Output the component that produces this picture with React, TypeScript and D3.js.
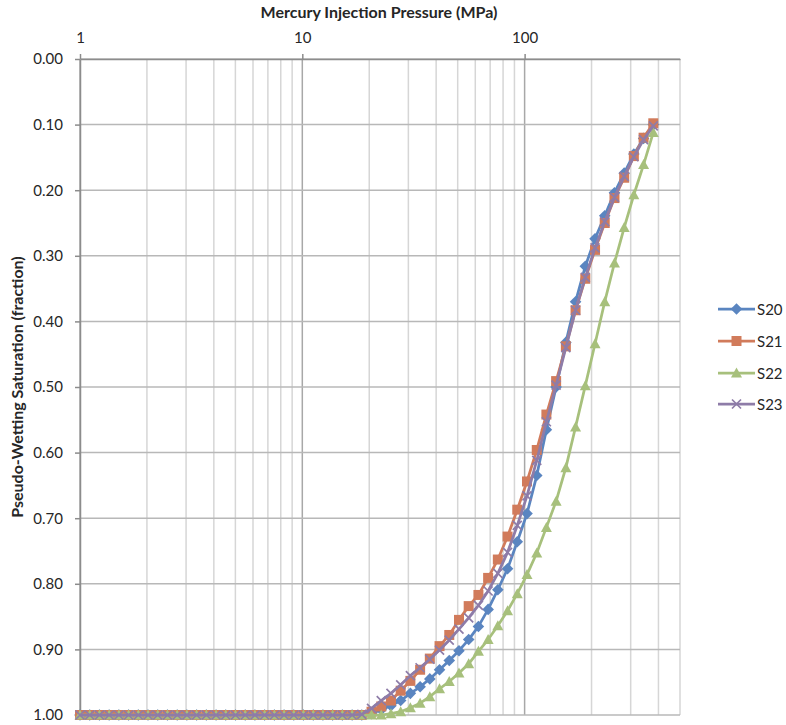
import React, { useEffect, useRef } from 'react';
import * as d3 from 'd3';

// Injection pressure steps (MPa), same schedule for every sample
const pressure = [
  1.0, 1.106, 1.223, 1.352, 1.496, 1.654, 1.829, 2.023, 2.237, 2.474,
  2.736, 3.026, 3.346, 3.701, 4.093, 4.526, 5.006, 5.536, 6.122, 6.77,
  7.487, 8.28, 9.157, 10.12, 11.2, 12.38, 13.69, 15.14, 16.75, 18.52,
  20.48, 22.65, 25.05, 27.7, 30.63, 33.88, 37.46, 41.43, 45.82, 50.67,
  56.03, 61.97, 68.53, 75.78, 83.81, 92.68, 102.5, 113.4, 125.3, 138.6,
  153.3, 169.5, 187.5, 207.4, 229.3, 253.6, 280.5, 310.0, 342.9, 379.2,
];

// Pseudo-wetting saturation (fraction) per sample
const s20 = [
  1, 1, 1, 1, 1, 1, 1, 1, 1, 1,
  1, 1, 1, 1, 1, 1, 1, 1, 1, 1,
  1, 1, 1, 1, 1, 1, 1, 1, 1, 1,
  0.998, 0.992, 0.986, 0.978, 0.967, 0.957, 0.945, 0.931, 0.917, 0.902,
  0.885, 0.865, 0.839, 0.809, 0.777, 0.736, 0.693, 0.635, 0.565, 0.5,
  0.432, 0.37, 0.316, 0.274, 0.239, 0.204, 0.174, 0.145, 0.121, 0.1,
];
const s21 = [
  1, 1, 1, 1, 1, 1, 1, 1, 1, 1,
  1, 1, 1, 1, 1, 1, 1, 1, 1, 1,
  1, 1, 1, 1, 1, 1, 1, 1, 1, 1,
  0.995, 0.987, 0.978, 0.963, 0.948, 0.931, 0.914, 0.895, 0.878, 0.855,
  0.834, 0.817, 0.791, 0.763, 0.728, 0.687, 0.644, 0.596, 0.542, 0.491,
  0.438, 0.383, 0.335, 0.291, 0.25, 0.212, 0.181, 0.148, 0.12, 0.098,
];
const s22 = [
  1, 1, 1, 1, 1, 1, 1, 1, 1, 1,
  1, 1, 1, 1, 1, 1, 1, 1, 1, 1,
  1, 1, 1, 1, 1, 1, 1, 1, 1, 1,
  1, 1, 0.998, 0.995, 0.989, 0.982, 0.972, 0.96, 0.949, 0.936,
  0.922, 0.903, 0.885, 0.864, 0.841, 0.815, 0.786, 0.753, 0.714, 0.674,
  0.623, 0.561, 0.498, 0.434, 0.37, 0.311, 0.257, 0.207, 0.161, 0.112,
];
const s23 = [
  1, 1, 1, 1, 1, 1, 1, 1, 1, 1,
  1, 1, 1, 1, 1, 1, 1, 1, 1, 1,
  1, 1, 1, 1, 1, 1, 1, 1, 1, 0.999,
  0.99, 0.978, 0.967, 0.954, 0.94, 0.928, 0.915, 0.901, 0.886, 0.869,
  0.852, 0.833, 0.811, 0.784, 0.752, 0.711, 0.666, 0.612, 0.553, 0.497,
  0.44, 0.383, 0.333, 0.288, 0.248, 0.211, 0.179, 0.149, 0.123, 0.102,
];

const seriesNames = ['S20', 'S21', 'S22', 'S23'];
const seriesValues = [s20, s21, s22, s23];
const seriesColors = ['#5A85C0', '#D17B5B', '#A7C07C', '#8E7CA8'];
const seriesMarkers = ['diamond', 'square', 'triangle', 'cross'];

const xLabelTicks = [1, 10, 100];
const yTicks = [0, 0.1, 0.2, 0.3, 0.4, 0.5, 0.6, 0.7, 0.8, 0.9, 1.0];

const W = 786;
const H = 725;
const FONT = 'Lato, "Open Sans", sans-serif';

const markerPath = (kind: string) => {
  if (kind === 'diamond') return 'M0,-5.8L5.8,0L0,5.8L-5.8,0Z';
  if (kind === 'square') return 'M-5,-5H5V5H-5Z';
  if (kind === 'triangle') return 'M0,-5.5L5.5,4.5L-5.5,4.5Z';
  return 'M-4.5,-4.5L4.5,4.5M-4.5,4.5L4.5,-4.5';
};

const drawMarker = (g: any, kind: string, color: string) => {
  const p = g.append('path').attr('d', markerPath(kind));
  if (kind === 'cross') {
    p.attr('fill', 'none').attr('stroke', color).attr('stroke-width', 1.7);
  } else {
    p.attr('fill', color).attr('stroke', 'none');
  }
};

const App = () => {
  const ref = useRef<SVGSVGElement>(null);

  useEffect(() => {
    const svg = d3.select(ref.current);
    svg.selectAll('*').remove();

    const margin = { top: 59, right: 106, bottom: 10, left: 80 };
    const x = d3.scaleLog().domain([1, 500]).range([margin.left, W - margin.right]);
    const y = d3.scaleLinear().domain([0, 1]).range([margin.top, H - margin.bottom]);

    svg.append('rect').attr('width', W).attr('height', H).attr('fill', '#fff');

    // vertical gridlines (minor lighter, decades darker)
    const grid = svg.append('g');
    x.ticks().forEach((t) => {
      const major = Math.abs(Math.log10(t) - Math.round(Math.log10(t))) < 1e-9;
      grid
        .append('line')
        .attr('x1', x(t))
        .attr('x2', x(t))
        .attr('y1', y(0))
        .attr('y2', y(1))
        .attr('stroke', major ? '#A8A8A8' : '#D6D6D6')
        .attr('stroke-width', 1.5);
    });

    // horizontal gridlines
    yTicks.forEach((t) => {
      grid
        .append('line')
        .attr('x1', x(1))
        .attr('x2', x(500))
        .attr('y1', y(t))
        .attr('y2', y(t))
        .attr('stroke', '#B8B8B8')
        .attr('stroke-width', 1.5);
    });

    // top axis
    const xAxis = d3
      .axisTop(x)
      .tickValues(xLabelTicks)
      .tickFormat(d3.format('d'))
      .tickSize(5)
      .tickSizeOuter(0)
      .tickPadding(11);
    const gx = svg.append('g').attr('transform', `translate(0, ${margin.top})`).call(xAxis);

    // left axis
    const yAxis = d3
      .axisLeft(y)
      .tickValues(yTicks)
      .tickFormat(d3.format('.2f'))
      .tickSize(5)
      .tickSizeOuter(0)
      .tickPadding(12);
    const gy = svg.append('g').attr('transform', `translate(${margin.left}, 0)`).call(yAxis);

    [gx, gy].forEach((g) => {
      g.select('.domain').attr('stroke', '#8C8C8C').attr('stroke-width', 1.5);
      g.selectAll('.tick line').attr('stroke', '#8C8C8C').attr('stroke-width', 1.5);
      g.selectAll('.tick text')
        .attr('fill', '#262626')
        .style('font-family', FONT)
        .style('font-size', '15px');
    });

    // axis titles
    svg
      .append('text')
      .attr('x', 379)
      .attr('y', 18)
      .attr('text-anchor', 'middle')
      .style('font-family', FONT)
      .style('font-size', '16px')
      .style('font-weight', 'bold')
      .attr('fill', '#262626')
      .text('Mercury Injection Pressure (MPa)');

    svg
      .append('text')
      .attr('transform', `translate(23, ${(y(0) + y(1)) / 2}) rotate(-90)`)
      .attr('text-anchor', 'middle')
      .style('font-family', FONT)
      .style('font-size', '16px')
      .style('font-weight', 'bold')
      .attr('fill', '#262626')
      .text('Pseudo-Wetting Saturation (fraction)');

    // series
    const line = d3
      .line<number>()
      .x((_, i) => x(pressure[i]))
      .y((d) => y(d));

    seriesValues.forEach((vals, si) => {
      const g = svg.append('g');
      g.append('path')
        .attr('d', line(vals))
        .attr('fill', 'none')
        .attr('stroke', seriesColors[si])
        .attr('stroke-width', 2.75)
        .attr('stroke-linejoin', 'round');
      vals.forEach((v, i) => {
        const m = g.append('g').attr('transform', `translate(${x(pressure[i])}, ${y(v)})`);
        drawMarker(m, seriesMarkers[si], seriesColors[si]);
      });
    });

    // legend
    const legendY = [309, 341, 373, 404];
    seriesNames.forEach((name, si) => {
      const g = svg.append('g').attr('transform', `translate(718, ${legendY[si]})`);
      g.append('line')
        .attr('x1', 0)
        .attr('x2', 37)
        .attr('stroke', seriesColors[si])
        .attr('stroke-width', 2.75);
      const m = g.append('g').attr('transform', 'translate(18.5, 0)');
      drawMarker(m, seriesMarkers[si], seriesColors[si]);
      g.append('text')
        .attr('x', 39)
        .attr('y', 5.5)
        .style('font-family', FONT)
        .style('font-size', '15px')
        .attr('fill', '#262626')
        .text(name);
    });
  }, []);

  return (
    <svg
      ref={ref}
      width={W}
      height={H}
      style={{ position: 'absolute', left: 0, top: 0, display: 'block' }}
    />
  );
};

export default App;
